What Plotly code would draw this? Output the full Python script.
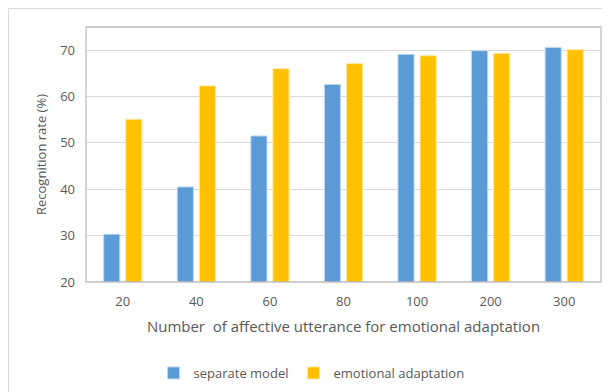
import plotly.graph_objects as go

categories = ["20", "40", "60", "80", "100", "200", "300"]
separate_model = [30.3, 40.5, 51.5, 62.6, 69.1, 69.9, 70.6]
emotional_adaptation = [55.1, 62.3, 66.0, 67.1, 68.8, 69.3, 70.1]
y_ticks = [20, 30, 40, 50, 60, 70]

FONT = "Open Sans"
GRAY = "#595959"

fig = go.Figure()
fig.add_trace(go.Bar(
    x=categories, y=separate_model, name="separate model",
    marker=dict(color="#5B9BD5", line=dict(color="#BDD7EE", width=1)),
))
fig.add_trace(go.Bar(
    x=categories, y=emotional_adaptation, name="emotional adaptation",
    marker=dict(color="#FFC000", line=dict(color="#FFE699", width=1)),
))

# page body adds an 8px margin; figure is sized so the plot lands where the reference has it
W, H = 602, 384
L, R, T, B = 78, 9, 19, 110
PW, PH = W - L - R, H - T - B

fig.update_layout(
    width=W, height=H,
    margin=dict(l=L, r=R, t=T, b=B, autoexpand=False),
    paper_bgcolor="white", plot_bgcolor="white",
    barmode="group", bargap=0.40, bargroupgap=0.27,
    font=dict(family=FONT, size=13, color=GRAY),
    showlegend=True,
    legend=dict(orientation="h", x=0.438, xanchor="center", y=-91 / PH, yanchor="middle",
                font=dict(size=13, color=GRAY), itemwidth=30, traceorder="normal"),
    xaxis=dict(
        type="category", showgrid=False, ticks="", showline=False, automargin=False,
        tickfont=dict(size=13, color=GRAY), ticklabelstandoff=10,
        title=dict(text="Number  of affective utterance for emotional adaptation",
                   font=dict(size=15, color=GRAY), standoff=12),
    ),
    yaxis=dict(
        range=[20, 75], tickvals=y_ticks, showgrid=True, gridcolor="#D9D9D9", gridwidth=1,
        zeroline=False, showline=False, ticks="", automargin=False,
        tickfont=dict(size=13, color=GRAY), ticklabelstandoff=10,
        title=dict(text="Recognition rate (%)", font=dict(size=13, color=GRAY), standoff=10),
    ),
    shapes=[
        dict(type="rect", xref="paper", yref="paper", x0=0, y0=0, x1=1, y1=1,
             line=dict(color="#BFBFBF", width=1.3), fillcolor="rgba(0,0,0,0)", layer="above"),
        dict(type="rect", xref="paper", yref="paper", x0=-(L - 0.5) / PW, y0=-1.5, x1=1.2,
             y1=1 + (T - 0.5) / PH,
             line=dict(color="#D9D9D9", width=1), fillcolor="rgba(0,0,0,0)", layer="below"),
    ],
)

fig.write_html("out.html")
